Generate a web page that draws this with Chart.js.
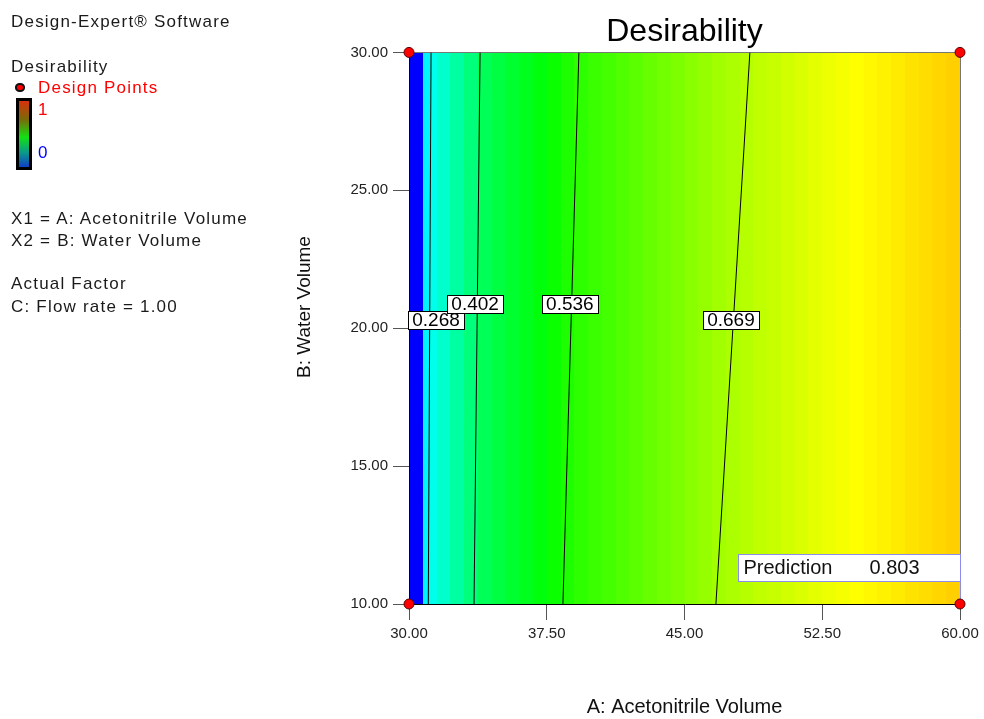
<!DOCTYPE html>
<html>
<head>
<meta charset="utf-8">
<title>Desirability</title>
<script src="https://cdn.jsdelivr.net/npm/chart.js@4.4.1/dist/chart.umd.min.js"></script>
<style>
  html, body { margin: 0; padding: 0; background: #fff; }
  #wrap { position: relative; width: 984px; height: 719px; overflow: hidden; }
  #chart { position: absolute; left: 0; top: 0; }
  .side { position: absolute; left: 11px; font-family: Arial, "Liberation Sans", sans-serif; font-size: 17px; line-height: 17px; letter-spacing: 1.2px; color: #1a1a1a; white-space: nowrap; }
  .red { color: #ff0000; }
  .blue { color: #0000ff; }
  #dpIcon { position: absolute; left: 15px; top: 83px; width: 6px; height: 5px; border: 2px solid #111; border-radius: 45%; background: #ff0000; }
  #colorBar { position: absolute; left: 16px; top: 98px; width: 10px; height: 66px; border: 3px solid #000;
    background: linear-gradient(to bottom, #d8320c 0%, #7a6a08 28%, #12e014 55%, #0a9a8a 78%, #1040c8 100%); }
</style>
</head>
<body>
<div id="wrap">
  <canvas id="chart" width="984" height="719"></canvas>
  <div class="side" style="top:13px">Design-Expert® Software</div>
  <div class="side" style="top:58px">Desirability</div>
  <div id="dpIcon"></div>
  <div class="side red" style="top:79px; left:38px">Design Points</div>
  <div id="colorBar"></div>
  <div class="side red" style="top:101px; left:38px">1</div>
  <div class="side blue" style="top:144px; left:38px">0</div>
  <div class="side" style="top:210px">X1 = A: Acetonitrile Volume</div>
  <div class="side" style="top:232px">X2 = B: Water Volume</div>
  <div class="side" style="top:275px">Actual Factor</div>
  <div class="side" style="top:298px">C: Flow rate = 1.00</div>
</div>
<script>
// Axis ticks
const xTicks = [30, 37.5, 45, 52.5, 60];
const yTicks = [10, 15, 20, 25, 30];

// Desirability colour strips along A (edges in A units, one value per strip)
const bandEdges = [30, 30.44, 30.78, 31.14, 31.5, 32.25, 33, 33.75, 34.5, 35.25, 36, 36.75, 37.5, 38.25,
  39, 39.75, 40.5, 41.25, 42, 42.75, 43.5, 44.25, 45, 45.75, 46.5, 47.25, 48, 48.75, 49.5, 50.25,
  51, 51.75, 52.5, 53.25, 54, 54.75, 55.5, 56.25, 57, 57.75, 58.5, 59.25, 60];
const bandValues = [0, 0, 0.24, 0.27, 0.30, 0.34, 0.38, 0.415, 0.435, 0.455, 0.472, 0.49, 0.51, 0.528,
  0.545, 0.556, 0.567, 0.578, 0.59, 0.601, 0.612, 0.624, 0.635, 0.646, 0.658, 0.669, 0.678, 0.687,
  0.696, 0.705, 0.714, 0.723, 0.732, 0.741, 0.75, 0.757, 0.763, 0.77, 0.777, 0.783, 0.79, 0.797];

// Contour lines: A value where each level meets B = 30 (top) and B = 10 (bottom)
const contourLevels = [0.268, 0.402, 0.536, 0.669];
const contourTopA = [31.2, 33.87, 39.25, 48.56];
const contourBottomA = [31.05, 33.54, 38.38, 46.71];
const contourLabelA = [31.47, 33.6, 38.76, 47.53];
const contourLabelB = [20.29, 20.87, 20.87, 20.29];

// Design points
const designA = [30, 60, 30, 60];
const designB = [30, 30, 10, 10];

// Prediction flag
const predictionA = 60;
const predictionB = 10;
const predictionValue = 0.803;

const FONT = 'Arial, "Liberation Sans", sans-serif';
Chart.defaults.font.family = FONT;

// blue -> cyan -> green -> yellow -> red
const colorStops = [[0, 0, 255], [0, 255, 255], [0, 255, 0], [255, 255, 0], [255, 0, 0]];
function desirabilityColor(d) {
    const t = Math.max(0, Math.min(1, d)) * 4;
    const i = Math.min(3, Math.floor(t));
    const f = t - i;
    const a = colorStops[i], b = colorStops[i + 1];
    const c = a.map((v, k) => Math.round(v + (b[k] - v) * f));
    return `rgb(${c[0]}, ${c[1]}, ${c[2]})`;
}

// Colour map + plot frame, under the contour lines
const heatmapPlugin = {
    id: 'heatmap',
    beforeDatasetsDraw(chart) {
        const { ctx, scales: { x, y } } = chart;
        const top = Math.round(y.getPixelForValue(y.max));
        const bottom = Math.round(y.getPixelForValue(y.min));
        ctx.save();
        for (let i = 0; i < bandValues.length; i++) {
            const x0 = Math.round(x.getPixelForValue(bandEdges[i]));
            const x1 = Math.round(x.getPixelForValue(bandEdges[i + 1]));
            ctx.fillStyle = desirabilityColor(bandValues[i]);
            ctx.fillRect(x0, top, x1 - x0, bottom - top);
        }
        const left = Math.round(x.getPixelForValue(x.min));
        const right = Math.round(x.getPixelForValue(x.max));
        ctx.lineWidth = 1;
        ctx.strokeStyle = '#777';
        ctx.beginPath();
        ctx.moveTo(left, top + 0.5);
        ctx.lineTo(right + 0.5, top + 0.5);
        ctx.lineTo(right + 0.5, bottom);
        ctx.stroke();
        ctx.strokeStyle = '#000';
        ctx.beginPath();
        ctx.moveTo(left + 0.5, top);
        ctx.lineTo(left + 0.5, bottom + 0.5);
        ctx.lineTo(right + 1, bottom + 0.5);
        ctx.stroke();
        ctx.restore();
    }
};

// Contour labels and prediction flag, drawn just before the design points
const labelsPlugin = {
    id: 'labels',
    beforeDatasetDraw(chart, args) {
        if (args.index !== 0) return;
        const { ctx, scales: { x, y } } = chart;
        ctx.save();
        ctx.font = '19px ' + FONT;
        ctx.textBaseline = 'middle';
        ctx.textAlign = 'center';
        ctx.lineWidth = 1;
        contourLevels.forEach((level, i) => {
            const cx = x.getPixelForValue(contourLabelA[i]);
            const cy = y.getPixelForValue(contourLabelB[i]);
            const text = level.toFixed(3);
            const w = Math.round(ctx.measureText(text).width + 8);
            const h = 18;
            const bx = Math.round(cx - w / 2) + 0.5;
            const by = Math.round(cy - h / 2) + 0.5;
            ctx.fillStyle = '#fff';
            ctx.fillRect(bx, by, w, h);
            ctx.strokeStyle = '#000';
            ctx.strokeRect(bx, by, w, h);
            ctx.fillStyle = '#000';
            ctx.fillText(text, cx, cy + 1);
        });

        // prediction flag
        const px = Math.round(x.getPixelForValue(predictionA)) + 0.5;
        const py = Math.round(y.getPixelForValue(predictionB));
        const boxW = 222, boxTop = py - 50, boxBottom = py - 23;
        ctx.fillStyle = '#fff';
        ctx.fillRect(px - boxW, boxTop, boxW, boxBottom - boxTop);
        ctx.strokeStyle = '#8c8cf0';
        ctx.strokeRect(px - boxW, boxTop + 0.5, boxW, boxBottom - boxTop);
        ctx.beginPath();
        ctx.moveTo(px, boxBottom);
        ctx.lineTo(px, py);
        ctx.stroke();
        ctx.font = '20px ' + FONT;
        ctx.textAlign = 'left';
        ctx.fillStyle = '#111';
        ctx.fillText('Prediction', px - boxW + 5, (boxTop + boxBottom) / 2 + 1);
        ctx.fillText(predictionValue.toFixed(3), px - boxW + 131, (boxTop + boxBottom) / 2 + 1);
        ctx.restore();
    },
    afterDraw(chart) {
        // B axis title, sits a little above the middle of the plot
        const { ctx } = chart;
        ctx.save();
        ctx.translate(305, 307);
        ctx.rotate(-Math.PI / 2);
        ctx.font = '19px ' + FONT;
        ctx.fillStyle = '#111';
        ctx.textAlign = 'center';
        ctx.textBaseline = 'middle';
        ctx.fillText('B: Water Volume', 0, 0);
        ctx.restore();
    }
};

const datasets = [{
    label: 'Design Points',
    data: designA.map((a, i) => ({ x: a, y: designB[i] })),
    backgroundColor: '#ff0000',
    borderColor: '#5a0000',
    borderWidth: 1,
    pointRadius: 5,
    clip: false
}];
contourLevels.forEach((level, i) => {
    datasets.push({
        label: 'Desirability ' + level,
        data: [{ x: contourTopA[i], y: 30 }, { x: contourBottomA[i], y: 10 }],
        showLine: true,
        borderColor: '#000',
        borderWidth: 1,
        pointRadius: 0
    });
});

new Chart(document.getElementById('chart').getContext('2d'), {
    type: 'scatter',
    data: { datasets: datasets },
    options: {
        responsive: false,
        animation: false,
        layout: { padding: { left: 290, right: 24, top: 0, bottom: 0 } },
        plugins: {
            legend: { display: false },
            tooltip: { enabled: false },
            title: {
                display: true,
                fullSize: false,
                text: 'Desirability',
                color: '#000',
                font: { size: 32, weight: 'normal' },
                padding: { top: 13, bottom: 1 }
            }
        },
        scales: {
            x: {
                type: 'linear',
                min: 30,
                max: 60,
                afterBuildTicks: scale => { scale.ticks = xTicks.map(v => ({ value: v })); },
                afterFit: scale => { scale.height = 115; },
                ticks: {
                    autoSkip: false,
                    maxRotation: 0,
                    padding: 5,
                    color: '#222',
                    font: { size: 15 },
                    callback: v => Number(v).toFixed(2)
                },
                grid: { drawOnChartArea: false, drawTicks: true, tickLength: 16, color: '#555' },
                border: { display: false },
                title: {
                    display: true,
                    text: 'A: Acetonitrile Volume',
                    color: '#111',
                    font: { size: 20 },
                    padding: { top: 0, bottom: 0 }
                }
            },
            y: {
                type: 'linear',
                min: 10,
                max: 30,
                afterBuildTicks: scale => { scale.ticks = yTicks.map(v => ({ value: v })); },
                afterFit: scale => { scale.width = 119; },
                ticks: {
                    autoSkip: false,
                    padding: 5,
                    color: '#222',
                    font: { size: 15 },
                    callback: v => Number(v).toFixed(2)
                },
                grid: { drawOnChartArea: false, drawTicks: true, tickLength: 16, color: '#555' },
                border: { display: false },
                title: { display: false }
            }
        }
    },
    plugins: [heatmapPlugin, labelsPlugin]
});
</script>
</body>
</html>
